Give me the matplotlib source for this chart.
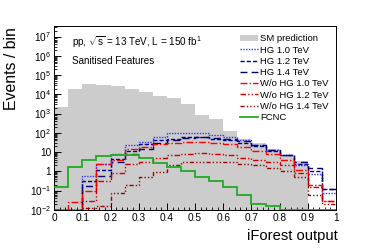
import numpy as np
import matplotlib
matplotlib.use("Agg")
import matplotlib.pyplot as plt
from matplotlib.ticker import FixedLocator, FuncFormatter, MultipleLocator, LogLocator, NullFormatter
from matplotlib.patches import Patch
from matplotlib.lines import Line2D

plt.rcParams['font.family'] = ['Liberation Sans', 'DejaVu Sans']
plt.rcParams['mathtext.fontset'] = 'custom'
plt.rcParams['mathtext.rm'] = 'Liberation Sans'
plt.rcParams['mathtext.it'] = 'Liberation Sans:italic'
plt.rcParams['mathtext.bf'] = 'Liberation Sans:bold'

edges = np.round(np.arange(0, 1.0001, 0.05), 2)

sm = [2200, 2.0e4, 3.3e4, 3.2e4, 2.7e4, 2.0e4, 1.3e4, 8.0e3, 6.5e3, 3.2e3,
      800, 550, 130, 45, 30, 14, 7, 3.3, 0, 0]
hg10 = [0.01, 0.01, 0.6, 2.5, 8, 22, 35, 60, 92, 100,
        100, 75, 60, 40, 22, 13, 7, 2.0, 0.7, 0.07]
hg12 = [0.01, 0.01, 0.3, 1.2, 4.5, 12, 25, 40, 50, 60,
        60, 50, 40, 30, 20, 12, 7, 2.5, 1.0, 0.12]
hg14 = [0.01, 0.01, 0.18, 0.6, 3, 8, 15, 28, 40, 55,
        60, 55, 45, 36, 22, 12.6, 7.4, 3.1, 1.4, 0.12]
wo10 = [0.01, 0.025, 0.1, 2.5, 4, 15, 18, 25, 30, 35,
        35, 30, 25, 18, 12, 8, 4, 1.2, 0.2, 0.03]
wo12 = [0.01, 0.01, 0.03, 0.3, 0.8, 2.5, 3, 5, 7, 8,
        8.5, 8, 7, 5, 4, 3, 2, 0.8, 0.15, 0.03]
wo14 = [0.01, 0.01, 0.012, 0.015, 0.07, 0.19, 0.5, 0.95, 2.0, 3,
        3.2, 3.2, 3, 2.5, 2, 1.5, 1, 0.5, 0.06, 0.02]
fcnc = [0.15, 1.6, 4, 6, 7, 7, 4.7, 2.8, 1.7, 1.0,
        0.5, 0.3, 0.15, 0.06, 0.02, 0.015, 0.01, 0.01, 0.01, 0.01]

labels = ["SM prediction", "HG 1.0 TeV", "HG 1.2 TeV", "HG 1.4 TeV",
          "W/o HG 1.0 TeV", "W/o HG 1.2 TeV", "W/o HG 1.4 TeV", "FCNC"]

fig = plt.figure(figsize=(3.66, 2.50), dpi=100)
ax = fig.add_axes([0.148, 0.161, 0.770, 0.735])

ax.stairs(sm, edges, fill=True, color='#cccccc', linewidth=0, zorder=1)

styles = [
    (hg10, '#3333ff', (0, (1, 1))),
    (hg12, '#000099', (0, (3, 1.5))),
    (hg14, '#000066', (0, (5, 3))),
    (wo10, '#ff0000', (0, (5, 1.5, 1, 1.5))),
    (wo12, '#cc0000', (0, (4, 1.5, 1, 1.5, 1, 1.5))),
    (wo14, '#990000', (0, (3, 1.5, 1, 1.5, 1, 1.5, 1, 1.5))),
]
handles = [Patch(facecolor='#cccccc', edgecolor='none')]
for vals, col, ls in styles:
    ax.stairs(vals, edges, color=col, linestyle=ls, linewidth=1.0, zorder=3, baseline=None)
    handles.append(Line2D([], [], color=col, linestyle=ls, linewidth=1.0))
ax.stairs(fcnc, edges, color='#22aa22', linewidth=1.3, zorder=4, baseline=None)
handles.append(Line2D([], [], color='#22aa22', linewidth=1.3))

ax.set_yscale('log')
ax.set_xlim(0, 1)
ax.set_ylim(1e-2, 10**7.55)

def yfmt(v, pos):
    e = int(round(np.log10(v)))
    if e == 0:
        return '1'
    if e == 1:
        return '10'
    return r'$10^{%d}$' % e
ax.yaxis.set_major_locator(FixedLocator([10.0**e for e in range(-2, 8)]))
ax.yaxis.set_major_formatter(FuncFormatter(yfmt))
ax.yaxis.set_minor_locator(LogLocator(base=10, subs=np.arange(2, 10), numticks=30))
ax.yaxis.set_minor_formatter(NullFormatter())

ax.xaxis.set_major_locator(MultipleLocator(0.1))
ax.xaxis.set_minor_locator(MultipleLocator(0.02))
ax.xaxis.set_major_formatter(FuncFormatter(lambda v, p: '0' if abs(v) < 1e-9 else ('1' if abs(v-1) < 1e-9 else '%.1f' % v)))

ax.tick_params(which='both', direction='in', top=False, right=False, labelsize=7.3, pad=2)
ax.tick_params(which='major', length=5, width=0.7)
ax.tick_params(which='minor', length=2.5, width=0.6)
for s in ax.spines.values():
    s.set_linewidth(0.7)

fig.text(12/366, 1 - 27/250, 'Events / bin', fontsize=11.4, rotation=90, ha='center', va='top')
fig.text(338/366, 1 - 236/250, 'iForest output', fontsize=10.6, ha='right', va='center')

ax.text(0.065, 0.91, r'pp, $\sqrt{\rm s}$ = 13 TeV, L = 150 fb$^{\rm 1}$', transform=ax.transAxes,
        fontsize=7.1, va='center', ha='left')
ax.text(0.065, 0.81, 'Sanitised Features', transform=ax.transAxes,
        fontsize=7.1, va='center', ha='left')

leg = ax.legend(handles, labels, loc='upper right', bbox_to_anchor=(0.995, 0.985), fontsize=6.8,
                frameon=False, handlelength=1.9, handletextpad=0.25, labelspacing=0.24,
                borderaxespad=0.2)

fig.savefig('out.png', dpi=100)
